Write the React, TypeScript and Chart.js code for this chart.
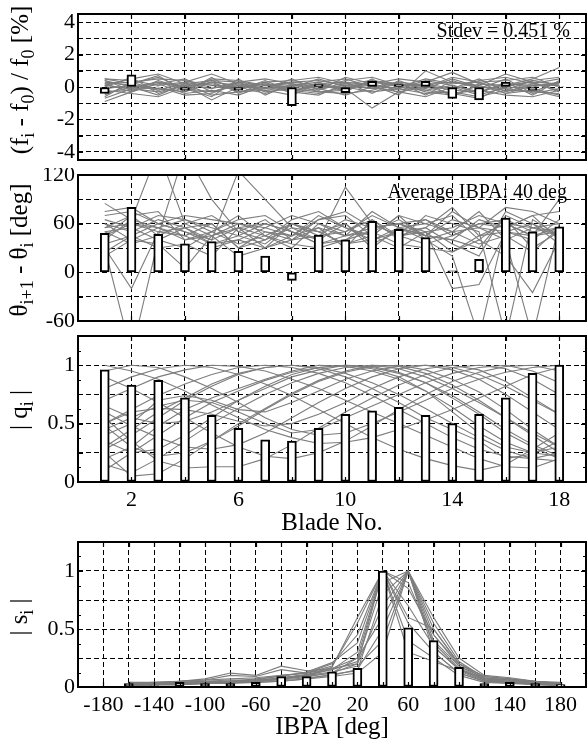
import { useEffect, useRef } from 'react';
import { Chart, registerables } from 'chart.js';

Chart.register(...registerables);

const FONT = "'Liberation Serif', 'Times New Roman', Times, serif";
const GRAY = '#7d7d7d';

// ---- axes -----------------------------------------------------------------
const BLADES = [1, 2, 3, 4, 5, 6, 7, 8, 9, 10, 11, 12, 13, 14, 15, 16, 17, 18];
const IBPA = [-160, -140, -120, -100, -80, -60, -40, -20, 0, 20, 40, 60, 80, 100, 120, 140, 160, 180];

const BLADE_GRID = [2, 4, 6, 8, 10, 12, 14, 16, 18];
const BLADE_TICKS = [2, 6, 10, 14, 18];
const IBPA_GRID = [-180, -160, -140, -120, -100, -80, -60, -40, -20, 0, 20, 40, 60, 80, 100, 120, 140, 160, 180];
const IBPA_TICKS = [-180, -140, -100, -60, -20, 20, 60, 100, 140, 180];
const FREQ_GRID = [-4, -3, -2, -1, 0, 1, 2, 3, 4];
const FREQ_TICKS = [-4, -2, 0, 2, 4];
const PHASE_GRID = [-60, -30, 0, 30, 60, 90, 120];
const PHASE_TICKS = [-60, 0, 60, 120];
const AMP_GRID = [0, 0.25, 0.5, 0.75, 1, 1.25];
const AMP_TICKS = [0, 0.5, 1];
const AMP_MINOR = [0.125, 0.375, 0.625, 0.875, 1.125];

// ---- frequency deviation (f_i - f_0) / f_0 [%] ------------------------------
const FREQ_MEAN = [-0.4, 0.75, -0.05, -0.2, 0.05, -0.2, 0.05, -1.15, 0.15, -0.35, 0.35, 0.15, 0.35, -0.7, -0.8, 0.3, -0.2, 0.03];
const FREQ_RUNS = [
  [0.3, 0.1, -0.2, 0.2, 0.4, -0.1, 0.2, 0.0, -0.2, 0.3, 0.1, -0.1, 0.4, 0.1, -0.3, 0.2, 0.0, 0.3],
  [-0.5, 0.2, 0.6, -0.1, -0.3, 0.2, 0.0, 0.3, 0.1, -0.2, 0.3, 0.2, -0.1, 0.5, 0.0, -0.2, 0.4, 0.1],
  [0.5, 0.4, 0.1, 0.3, 0.8, 0.2, -0.1, 0.1, 0.3, 0.5, 0.0, 0.3, 0.1, -0.2, 0.4, 0.6, 0.2, 0.5],
  [-0.9, -0.3, 0.2, -0.4, -0.2, -0.5, 0.1, -0.2, -0.4, 0.0, -0.3, -0.1, -0.4, -0.3, -0.6, -0.2, -0.3, -0.4],
  [0.1, 0.5, 0.8, 0.2, -0.1, 0.3, 0.5, 0.2, 0.0, 0.4, 0.6, 0.1, 0.2, 0.3, 0.1, 0.8, 0.3, 0.2],
  [-0.2, -0.4, -0.6, 0.0, 0.3, -0.3, -0.2, -0.5, 0.2, -0.1, -1.3, -0.3, 0.0, -0.4, -0.2, -0.5, -0.6, -0.2],
  [0.4, 0.0, 0.3, -0.2, 0.5, 0.4, 0.1, 0.3, 0.4, 0.1, 0.2, 0.5, 0.3, 0.9, 0.2, 0.1, 0.5, 1.2],
  [-0.7, -0.1, -0.3, 0.1, -0.8, 0.0, -0.4, 0.1, -0.1, -0.5, 0.0, -0.3, -0.6, 0.0, -0.5, 0.0, -0.1, -0.5],
  [0.2, 0.3, 0.5, 0.4, 0.1, 0.0, 0.3, 0.4, 0.6, 0.2, 0.4, 0.0, 0.5, 0.2, 0.3, 0.4, 0.6, 0.0],
  [-0.3, -0.2, 0.0, -0.5, -0.4, 0.3, -0.3, -0.1, -0.3, -0.4, -0.2, 0.2, -0.3, -0.5, 0.1, -0.4, -0.2, -0.6],
  [0.0, 0.6, -0.4, 0.1, 0.2, -0.2, 0.4, -0.3, 0.2, 0.3, -0.4, 0.4, -0.2, 0.1, -0.4, 0.3, -0.5, 0.4],
  [0.4, -0.2, 0.2, 0.5, -0.3, 0.1, -0.1, 0.5, -0.2, 0.6, 0.2, -0.2, 0.2, -0.1, 0.5, -0.3, 0.2, -0.2],
  [-0.1, 0.1, -0.1, -0.3, 0.6, -0.4, 0.3, -0.4, 0.3, -0.3, 0.5, -0.4, 0.3, -0.6, 0.2, 0.0, 0.4, 0.6],
  [0.2, -0.3, 0.4, -0.1, -0.6, 0.5, -0.5, 0.2, -0.1, 0.1, -0.1, 0.3, -0.5, 0.4, -0.1, 0.5, -0.4, -0.1],
  [-0.6, 0.3, -0.2, 0.3, 0.0, -0.1, 0.2, -0.2, 0.1, -0.1, 0.3, 0.1, 0.1, -0.2, -0.3, 0.2, 0.1, 0.2],
  [0.5, 0.2, 0.7, -0.3, 0.3, 0.1, -0.2, 0.0, 0.5, 0.0, 0.1, -0.5, 1.0, 0.3, 0.0, -0.1, -0.3, 0.3],
  [-0.4, 0.0, -0.5, 0.2, -0.5, -0.3, 0.0, -0.3, -0.5, 0.2, -0.1, 0.0, -0.2, -0.4, -0.7, 0.1, 0.3, -0.3],
  [0.1, -0.1, 0.3, 0.0, 0.4, 0.3, 0.1, 0.2, -0.3, -0.2, 0.4, 0.2, 0.0, 0.6, 0.3, -0.4, 0.1, 0.1],
];

// ---- inter-blade phase difference [deg] ------------------------------------
const PHASE_MEAN = [48, 80, 47, 35, 38, 26, 20, -10, 46, 40, 63, 53, 43, 2, 16, 67, 50, 56];
const PHASE_RUNS = [
  [45, 60, 55, 40, 50, 35, 45, 30, 60, 50, 70, 55, 45, 40, 30, 70, 55, 60],
  [70, 75, 60, 50, 40, 55, 30, 40, 45, 65, 55, 60, 50, 25, 45, 60, 45, 50],
  [30, -100, 40, 55, 35, 45, 60, 50, 35, 40, 60, 45, 55, 35, 20, 75, 60, 45],
  [30, -20, 50, 45, 60, 30, 40, 55, 50, 35, 45, 70, 40, 50, 55, 50, 40, 65],
  [85, 65, 150, 60, 45, 60, 50, 45, 70, 55, 40, 50, 65, 45, 60, 55, 70, 40],
  [55, 70, 45, 150, 90, 50, 65, 40, 55, 45, 75, 55, 60, 70, 40, 65, 50, 55],
  [60, 50, 65, 55, 40, 125, 90, 55, 40, 105, 60, 45, 50, 55, 70, 60, 45, 90],
  [20, 40, 35, 5, 45, 20, 30, 60, 50, 60, 30, 55, 40, 20, -80, 60, 55, 50],
  [50, 55, 70, 65, 55, 45, 35, 60, 45, 50, 65, 40, 70, 60, 50, -80, 65, 45],
  [40, 65, 55, 45, 30, 40, 55, 70, 60, 45, 50, 65, 45, 75, 55, 40, -80, 60],
  [75, 80, 60, 70, 65, 60, 55, 45, 65, 75, 55, 60, 45, 40, 65, 55, 70, 75],
  [25, 45, 30, 35, 20, 55, 45, 35, 30, 40, 50, 35, 30, 25, 40, 20, -25, 40],
  [50, 35, 45, 60, 70, 50, 40, 65, 75, 55, 45, 70, 60, 50, 35, 45, 25, 55],
  [65, 55, 40, 30, 50, 65, 70, 50, 40, 60, 35, 50, 55, 80, 45, 50, 60, 35],
  [35, 45, 60, 50, 35, 40, 30, 45, 55, 30, 65, 45, 35, 45, 60, 65, 30, 50],
  [55, 60, 50, 55, 60, 30, 50, 40, 65, 70, 45, 30, 50, -20, -15, 50, 45, 55],
  [45, 70, 75, 40, 45, 55, 60, 50, 35, 45, 55, 60, 65, 50, 75, 40, 55, 45],
  [60, 40, 55, 65, 50, 70, 45, 60, 50, 35, 40, 55, 45, 65, 55, 80, 75, 60],
];

// ---- normalized blade amplitude |q_i| ---------------------------------------
const Q_MEAN = [0.96, 0.83, 0.87, 0.72, 0.57, 0.46, 0.36, 0.35, 0.46, 0.58, 0.61, 0.64, 0.57, 0.5, 0.58, 0.72, 0.93, 1.0];
const Q_RUNS = [
  [1.0, 0.95, 0.88, 0.78, 0.66, 0.55, 0.45, 0.38, 0.33, 0.34, 0.38, 0.45, 0.53, 0.62, 0.72, 0.82, 0.92, 0.98],
  [0.3, 0.45, 0.6, 0.72, 0.84, 0.93, 0.98, 1.0, 0.98, 0.93, 0.85, 0.75, 0.63, 0.5, 0.38, 0.27, 0.2, 0.18],
  [0.5, 0.62, 0.74, 0.84, 0.92, 0.98, 1.0, 0.98, 0.93, 0.85, 0.74, 0.62, 0.5, 0.38, 0.28, 0.22, 0.2, 0.25],
  [0.15, 0.08, 0.2, 0.35, 0.5, 0.63, 0.75, 0.85, 0.93, 0.98, 1.0, 0.97, 0.9, 0.8, 0.68, 0.55, 0.42, 0.3],
  [0.6, 0.48, 0.38, 0.3, 0.28, 0.32, 0.42, 0.55, 0.68, 0.8, 0.9, 0.97, 1.0, 0.98, 0.92, 0.82, 0.7, 0.58],
  [0.9, 0.8, 0.68, 0.55, 0.42, 0.3, 0.22, 0.2, 0.25, 0.35, 0.48, 0.62, 0.75, 0.86, 0.94, 0.99, 1.0, 0.95],
  [0.25, 0.05, 0.07, 0.2, 0.35, 0.5, 0.63, 0.76, 0.87, 0.95, 1.0, 0.99, 0.93, 0.83, 0.7, 0.55, 0.4, 0.25],
  [0.45, 0.55, 0.65, 0.7, 0.68, 0.6, 0.5, 0.42, 0.45, 0.55, 0.65, 0.75, 0.85, 0.93, 0.98, 1.0, 0.95, 0.85],
  [0.7, 0.8, 0.9, 0.96, 1.0, 0.99, 0.95, 0.88, 0.8, 0.7, 0.6, 0.5, 0.4, 0.3, 0.2, 0.13, 0.12, 0.2],
  [0.35, 0.25, 0.28, 0.4, 0.55, 0.7, 0.82, 0.92, 0.98, 1.0, 0.97, 0.9, 0.78, 0.64, 0.48, 0.34, 0.25, 0.22],
  [0.55, 0.35, 0.18, 0.12, 0.13, 0.13, 0.2, 0.32, 0.46, 0.6, 0.72, 0.83, 0.92, 0.98, 1.0, 0.97, 0.88, 0.75],
  [0.8, 0.9, 0.97, 1.0, 0.98, 0.92, 0.84, 0.74, 0.62, 0.5, 0.38, 0.28, 0.2, 0.14, 0.1, 0.15, 0.28, 0.42],
  [0.1, 0.25, 0.4, 0.55, 0.68, 0.78, 0.87, 0.94, 0.98, 1.0, 0.98, 0.93, 0.85, 0.74, 0.6, 0.45, 0.32, 0.22],
  [0.5, 0.6, 0.63, 0.62, 0.58, 0.52, 0.48, 0.5, 0.58, 0.68, 0.8, 0.9, 0.97, 1.0, 0.96, 0.86, 0.72, 0.58],
  [0.2, 0.3, 0.48, 0.62, 0.72, 0.8, 0.88, 0.95, 1.0, 0.99, 0.95, 0.88, 0.78, 0.6, 0.42, 0.3, 0.25, 0.3],
  [0.65, 0.55, 0.5, 0.52, 0.6, 0.7, 0.8, 0.9, 0.96, 1.0, 0.99, 0.94, 0.85, 0.72, 0.58, 0.42, 0.3, 0.2],
  [0.28, 0.4, 0.55, 0.7, 0.82, 0.92, 0.98, 1.0, 0.97, 0.9, 0.8, 0.68, 0.55, 0.45, 0.35, 0.2, 0.24, 0.35],
  [0.95, 1.0, 0.98, 0.9, 0.8, 0.68, 0.55, 0.45, 0.4, 0.42, 0.5, 0.6, 0.7, 0.8, 0.88, 0.94, 0.98, 1.0],
  [0.48, 0.3, 0.22, 0.25, 0.35, 0.48, 0.62, 0.75, 0.86, 0.94, 0.99, 1.0, 0.96, 0.88, 0.77, 0.62, 0.45, 0.3],
  [0.4, 0.5, 0.7, 0.74, 0.7, 0.62, 0.6, 0.68, 0.78, 0.88, 0.95, 0.99, 1.0, 0.96, 0.88, 0.75, 0.6, 0.45],
];

// ---- travelling-wave mode amplitude |s_i| over IBPA -------------------------
const S_MEAN = [0.03, 0.01, 0.04, 0.03, 0.03, 0.04, 0.09, 0.09, 0.13, 0.16, 1.0, 0.51, 0.4, 0.17, 0.03, 0.04, 0.03, 0.02];
const S_RUNS = [
  [0.02, 0.02, 0.03, 0.04, 0.05, 0.04, 0.08, 0.1, 0.15, 0.3, 1.0, 0.55, 0.3, 0.12, 0.05, 0.04, 0.02, 0.02],
  [0.03, 0.03, 0.04, 0.05, 0.06, 0.06, 0.1, 0.12, 0.2, 0.45, 1.0, 0.7, 0.35, 0.15, 0.06, 0.05, 0.03, 0.02],
  [0.01, 0.02, 0.02, 0.03, 0.04, 0.05, 0.07, 0.09, 0.12, 0.25, 1.0, 0.85, 0.45, 0.18, 0.08, 0.06, 0.04, 0.03],
  [0.04, 0.03, 0.05, 0.06, 0.1, 0.09, 0.15, 0.12, 0.18, 0.55, 1.0, 0.4, 0.25, 0.1, 0.04, 0.03, 0.02, 0.01],
  [0.02, 0.03, 0.03, 0.04, 0.05, 0.07, 0.09, 0.13, 0.21, 0.38, 1.0, 0.6, 0.5, 0.2, 0.09, 0.07, 0.05, 0.03],
  [0.03, 0.04, 0.05, 0.07, 0.12, 0.1, 0.18, 0.14, 0.16, 0.2, 1.0, 0.3, 0.22, 0.14, 0.05, 0.03, 0.03, 0.02],
  [0.02, 0.02, 0.03, 0.04, 0.04, 0.05, 0.08, 0.1, 0.17, 0.6, 1.0, 0.9, 0.38, 0.16, 0.07, 0.05, 0.04, 0.03],
  [0.02, 0.02, 0.03, 0.03, 0.04, 0.05, 0.06, 0.08, 0.1, 0.15, 0.5, 1.0, 0.55, 0.22, 0.08, 0.06, 0.04, 0.03],
  [0.03, 0.03, 0.04, 0.04, 0.05, 0.06, 0.07, 0.09, 0.12, 0.2, 0.7, 1.0, 0.4, 0.18, 0.06, 0.05, 0.03, 0.02],
  [0.02, 0.02, 0.02, 0.03, 0.03, 0.04, 0.05, 0.07, 0.09, 0.12, 0.3, 1.0, 0.6, 0.25, 0.1, 0.08, 0.05, 0.03],
  [0.03, 0.03, 0.04, 0.05, 0.05, 0.06, 0.08, 0.11, 0.15, 0.22, 0.9, 1.0, 0.45, 0.2, 0.07, 0.06, 0.04, 0.02],
  [0.02, 0.03, 0.03, 0.04, 0.05, 0.05, 0.07, 0.1, 0.13, 0.18, 0.4, 1.0, 0.3, 0.12, 0.05, 0.04, 0.03, 0.02],
  [0.04, 0.04, 0.05, 0.06, 0.07, 0.08, 0.1, 0.12, 0.16, 0.25, 0.6, 1.0, 0.5, 0.2, 0.09, 0.07, 0.05, 0.04],
  [0.01, 0.02, 0.02, 0.03, 0.04, 0.04, 0.05, 0.07, 0.11, 0.14, 0.8, 1.0, 0.35, 0.15, 0.06, 0.04, 0.03, 0.02],
];

// ---- drawing helpers --------------------------------------------------------
type Part = { t: string; sub?: boolean };
type TextItem = { parts: Part[]; x: number; y: number; size: number; vertical?: boolean; align?: 'left' | 'center' | 'right' };

function drawRich(ctx: CanvasRenderingContext2D, item: TextItem) {
  const big = `${item.size}px ${FONT}`;
  const small = `${Math.round(item.size * 0.7)}px ${FONT}`;
  ctx.save();
  ctx.fillStyle = '#000';
  ctx.textAlign = 'left';
  ctx.textBaseline = 'alphabetic';
  ctx.translate(item.x, item.y);
  if (item.vertical) ctx.rotate(-Math.PI / 2);
  let w = 0;
  for (const p of item.parts) {
    ctx.font = p.sub ? small : big;
    w += ctx.measureText(p.t).width;
  }
  let x = item.align === 'right' ? -w : item.align === 'left' ? 0 : -w / 2;
  for (const p of item.parts) {
    ctx.font = p.sub ? small : big;
    ctx.fillText(p.t, x, p.sub ? item.size * 0.24 : 0);
    x += ctx.measureText(p.t).width;
  }
  ctx.restore();
}

// frame, inward tick marks and text labels of one panel
function makeDecor(texts: TextItem[], minorY: number[]) {
  return {
    id: 'decor',
    afterDraw(chart: any) {
      const { ctx, chartArea: a } = chart;
      const xs = chart.scales.x;
      const ys = chart.scales.y;
      ctx.save();
      ctx.setLineDash([]);
      ctx.strokeStyle = '#000';
      ctx.lineWidth = 1.2;
      ctx.beginPath();
      for (const t of ys.ticks) {
        const p = Math.round(ys.getPixelForValue(t.value)) + 0.5;
        ctx.moveTo(a.left, p); ctx.lineTo(a.left + 5, p);
        ctx.moveTo(a.right, p); ctx.lineTo(a.right - 5, p);
      }
      for (const v of minorY) {
        const p = Math.round(ys.getPixelForValue(v)) + 0.5;
        ctx.moveTo(a.left, p); ctx.lineTo(a.left + 3, p);
        ctx.moveTo(a.right, p); ctx.lineTo(a.right - 3, p);
      }
      for (const t of xs.ticks) {
        const p = Math.round(xs.getPixelForValue(t.value)) + 0.5;
        ctx.moveTo(p, a.top); ctx.lineTo(p, a.top + 5);
        ctx.moveTo(p, a.bottom); ctx.lineTo(p, a.bottom - 5);
      }
      ctx.stroke();
      ctx.lineWidth = 2;
      ctx.strokeRect(a.left, a.top, a.right - a.left, a.bottom - a.top);
      ctx.restore();
      for (const t of texts) drawRich(ctx, t);
    },
  };
}

function lineRuns(xs: number[], runs: number[][]) {
  return runs.map((run) => ({
    type: 'line',
    data: run.map((y, i) => ({ x: xs[i], y })),
    borderColor: GRAY,
    borderWidth: 1.1,
    pointRadius: 0,
    fill: false,
    tension: 0,
    order: 2,
  }));
}

function bars(xs: number[], ys: number[]) {
  return {
    type: 'bar',
    data: ys.map((y, i) => ({ x: xs[i], y })),
    backgroundColor: '#ffffff',
    borderColor: '#000000',
    borderWidth: 2,
    borderSkipped: false,
    barThickness: 9,
    order: 1,
  };
}

const fmt = (v: number) => String(v);

function axis(
  pos: 'x' | 'y',
  min: number,
  max: number,
  grid: number[],
  labels: number[],
  size: number,
  showLabels: boolean,
  title?: string,
) {
  return {
    type: 'linear',
    position: pos === 'x' ? 'bottom' : 'left',
    min,
    max,
    offset: false,
    afterBuildTicks: (s: any) => {
      s.ticks = grid.map((v) => ({ value: v }));
    },
    afterFit: (s: any) => {
      if (pos === 'x') s.height = size;
      else s.width = size;
      s.paddingTop = 0;
      s.paddingBottom = 0;
      s.paddingLeft = 0;
      s.paddingRight = 0;
    },
    ticks: {
      display: showLabels,
      autoSkip: false,
      maxRotation: 0,
      minRotation: 0,
      padding: pos === 'x' ? 5 : 3,
      color: '#000',
      font: { family: FONT, size: 22 },
      callback: (v: number) => (labels.includes(v) ? fmt(v) : ''),
    },
    grid: { color: '#000', lineWidth: 1, drawTicks: false, offset: false },
    border: { display: false, dash: [5, 3] },
    title: title
      ? { display: true, text: title, color: '#000', font: { family: FONT, size: 25 }, padding: { top: 0, bottom: 2 } }
      : { display: false },
  };
}

function panelConfig(opts: {
  datasets: any[];
  padTop: number;
  xAxis: any;
  yAxis: any;
  texts: TextItem[];
  minorY: number[];
}) {
  return {
    type: 'bar',
    data: { datasets: opts.datasets },
    options: {
      responsive: false,
      animation: false,
      events: [],
      layout: { padding: { top: opts.padTop, right: 1, left: 0, bottom: 0 } },
      plugins: { legend: { display: false }, tooltip: { enabled: false }, title: { display: false } },
      scales: { x: opts.xAxis, y: opts.yAxis },
    },
    plugins: [makeDecor(opts.texts, opts.minorY)],
  };
}

const Y_AXIS_W = 78;

export default function App() {
  const c1 = useRef<HTMLCanvasElement>(null);
  const c2 = useRef<HTMLCanvasElement>(null);
  const c3 = useRef<HTMLCanvasElement>(null);
  const c4 = useRef<HTMLCanvasElement>(null);

  useEffect(() => {
    const charts: Chart[] = [];

    charts.push(
      new Chart(
        c1.current!,
        panelConfig({
          datasets: [...lineRuns(BLADES, FREQ_RUNS), bars(BLADES, FREQ_MEAN)],
          padTop: 14,
          xAxis: axis('x', 0, 19, BLADE_GRID, BLADE_TICKS, 8, false),
          yAxis: axis('y', -4.5, 4.5, FREQ_GRID, FREQ_TICKS, Y_AXIS_W, true),
          minorY: [],
          texts: [
            {
              parts: [{ t: '(f' }, { t: 'i', sub: true }, { t: ' - f' }, { t: '0', sub: true }, { t: ') / f' }, { t: '0', sub: true }, { t: ' [%]' }],
              x: 28, y: 80, size: 25, vertical: true,
            },
            { parts: [{ t: 'Stdev = 0.451 %' }], x: 570, y: 37, size: 20, align: 'right' },
          ],
        }) as any,
      ),
    );

    charts.push(
      new Chart(
        c2.current!,
        panelConfig({
          datasets: [...lineRuns(BLADES, PHASE_RUNS), bars(BLADES, PHASE_MEAN)],
          padTop: 7,
          xAxis: axis('x', 0, 19, BLADE_GRID, BLADE_TICKS, 7, false),
          yAxis: axis('y', -60, 120, PHASE_GRID, PHASE_TICKS, Y_AXIS_W, true),
          minorY: [],
          texts: [
            {
              parts: [{ t: '\u03b8' }, { t: 'i+1', sub: true }, { t: ' - \u03b8' }, { t: 'i', sub: true }, { t: ' [deg]' }],
              x: 27, y: 82, size: 25, vertical: true,
            },
            { parts: [{ t: 'Average IBPA: 40 deg' }], x: 567, y: 30, size: 20, align: 'right' },
          ],
        }) as any,
      ),
    );

    charts.push(
      new Chart(
        c3.current!,
        panelConfig({
          datasets: [...lineRuns(BLADES, Q_RUNS), bars(BLADES, Q_MEAN)],
          padTop: 8,
          xAxis: axis('x', 0, 19, BLADE_GRID, BLADE_TICKS, 58, true, 'Blade No.'),
          yAxis: axis('y', 0, 1.25, AMP_GRID, AMP_TICKS, Y_AXIS_W, true),
          minorY: AMP_MINOR,
          texts: [
            { parts: [{ t: '| q' }, { t: 'i', sub: true }, { t: ' |' }], x: 27, y: 82, size: 25, vertical: true },
          ],
        }) as any,
      ),
    );

    charts.push(
      new Chart(
        c4.current!,
        panelConfig({
          datasets: [...lineRuns(IBPA, S_RUNS), bars(IBPA, S_MEAN)],
          padTop: 2,
          xAxis: axis('x', -200, 200, IBPA_GRID, IBPA_TICKS, 57, true, 'IBPA [deg]'),
          yAxis: axis('y', 0, 1.25, AMP_GRID, AMP_TICKS, Y_AXIS_W, true),
          minorY: AMP_MINOR,
          texts: [
            { parts: [{ t: '| s' }, { t: 'i', sub: true }, { t: ' |' }], x: 27, y: 77, size: 25, vertical: true },
          ],
        }) as any,
      ),
    );

    return () => charts.forEach((c) => c.destroy());
  }, []);

  const cs = (top: number, h: number) => ({ position: 'absolute' as const, left: 0, top, width: 587, height: h, display: 'block' });

  return (
    <div style={{ position: 'absolute', left: 0, top: 0, width: 587, height: 744, background: '#fff', overflow: 'hidden' }}>
      <canvas ref={c1} width={587} height={168} style={cs(0, 168)} />
      <canvas ref={c2} width={587} height={160} style={cs(168, 160)} />
      <canvas ref={c3} width={587} height={212} style={cs(328, 212)} />
      <canvas ref={c4} width={587} height={204} style={cs(540, 204)} />
    </div>
  );
}
